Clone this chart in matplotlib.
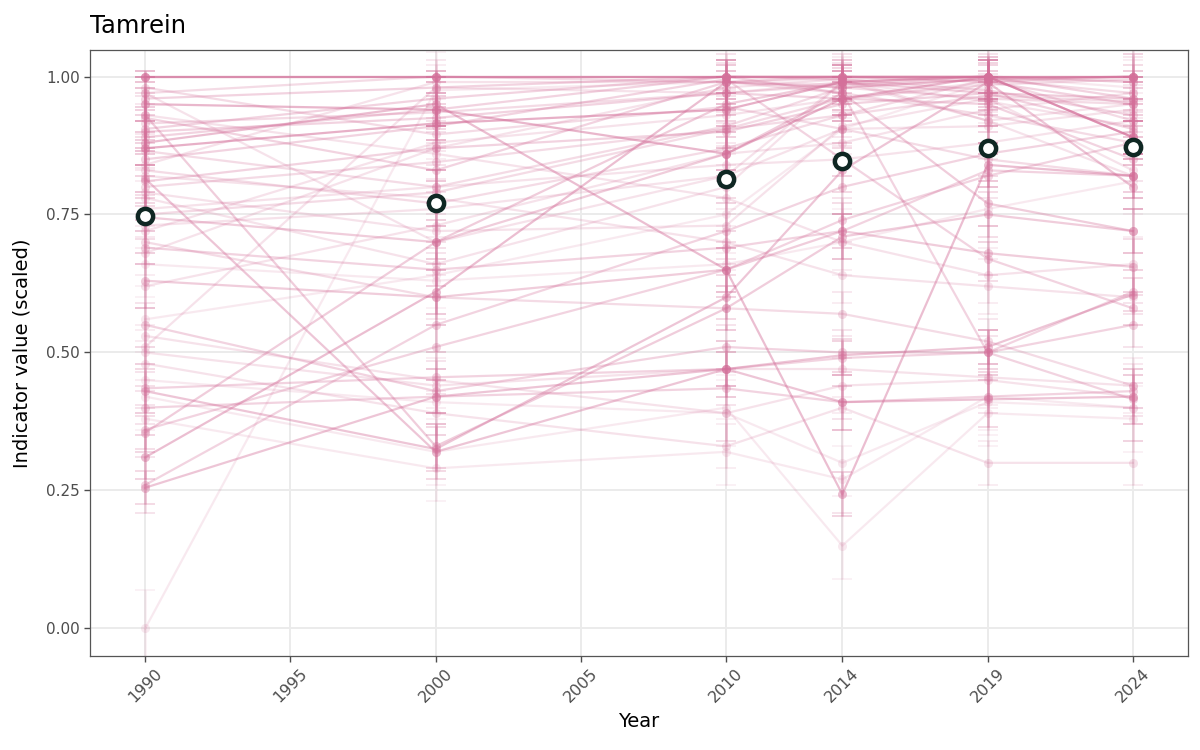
import matplotlib
matplotlib.use("Agg")
import matplotlib.pyplot as plt
import numpy as np

years = [1990, 2000, 2010, 2014, 2019, 2024]

# indicator values per year (1990, 2000, 2010, 2014, 2019, 2024)
ind01 = [1.00, 1.00, 1.00, 1.00, 1.00, 1.00]
ind02 = [1.00, 1.00, 1.00, 1.00, 1.00, 1.00]
ind03 = [0.87, 0.915, 0.94, 0.99, 1.00, 0.89]
ind04 = [0.95, 0.94, 0.86, 0.96, 1.00, 0.89]
ind05 = [0.925, 0.83, 0.99, 1.00, 1.00, 0.96]
ind06 = [0.865, 0.80, 0.91, 0.98, 0.96, 0.95]
ind07 = [0.83, 0.77, 0.87, 0.93, 0.995, 0.92]
ind08 = [0.79, 0.72, 0.73, 0.91, 0.96, 0.83]
ind09 = [0.78, 0.66, 0.80, 0.99, 0.92, 0.82]
ind10 = [0.76, 0.80, 0.84, 0.85, 0.88, 0.92]
ind11 = [0.745, 0.70, 0.86, 0.97, 0.77, 0.72]
ind12 = [0.69, 0.65, 0.69, 0.72, 0.83, 0.82]
ind13 = [0.68, 0.87, 0.98, 0.995, 0.92, 0.95]
ind14 = [0.63, 0.60, 0.65, 0.72, 0.68, 0.655]
ind15 = [0.56, 0.64, 0.75, 0.905, 0.99, 1.00]
ind16 = [0.55, 0.43, 0.51, 0.50, 0.50, 0.55]
ind17 = [0.51, 0.98, 0.97, 0.99, 1.00, 0.99]
ind18 = [0.50, 0.44, 0.47, 0.47, 0.455, 0.44]
ind19 = [0.45, 0.41, 0.39, 0.30, 0.41, 0.40]
ind20 = [0.435, 0.455, 0.47, 0.49, 0.50, 0.415]
ind21 = [0.43, 0.325, 0.60, 0.83, 0.99, 0.80]
ind22 = [0.42, 0.32, 0.40, 0.15, 0.39, 0.38]
ind23 = [0.40, 0.42, 0.435, 0.41, 0.42, 0.43]
ind24 = [0.36, 0.51, 0.65, 0.74, 0.82, 0.88]
ind25 = [0.355, 0.70, 0.95, 0.99, 0.97, 0.96]
ind26 = [0.31, 0.61, 0.99, 0.98, 0.995, 1.00]
ind27 = [0.26, 0.55, 0.72, 0.80, 0.86, 0.90]
ind28 = [0.255, 0.42, 0.47, 0.495, 0.51, 0.605]
ind29 = [0.00, 0.975, 0.99, 0.995, 1.00, 0.98]
ind30 = [0.97, 1.00, 0.99, 0.97, 0.93, 0.88]
ind31 = [0.90, 0.925, 0.97, 0.96, 0.95, 0.85]
ind32 = [0.88, 0.95, 0.65, 0.243, 0.84, 0.82]
ind33 = [0.82, 0.78, 0.70, 0.64, 0.62, 0.60]
ind34 = [0.72, 0.88, 0.93, 0.96, 0.99, 1.00]
ind35 = [0.70, 0.60, 0.58, 0.57, 0.52, 0.44]
ind36 = [0.66, 0.63, 0.66, 0.70, 0.76, 0.81]
ind37 = [0.53, 0.45, 0.39, 0.44, 0.45, 0.42]
ind38 = [0.48, 0.39, 0.33, 0.40, 0.30, 0.30]
ind39 = [0.38, 0.29, 0.32, 0.27, 0.42, 0.40]
ind40 = [0.85, 0.91, 0.995, 0.85, 0.67, 0.58]
ind41 = [0.93, 0.33, 0.58, 0.71, 0.75, 0.72]
ind42 = [0.80, 0.845, 0.905, 0.93, 0.965, 0.955]
ind43 = [0.73, 0.76, 0.82, 0.905, 0.91, 0.94]
ind44 = [0.905, 0.96, 1.00, 0.97, 0.50, 0.61]
ind45 = [0.98, 0.895, 0.945, 0.905, 0.85, 0.82]
ind46 = [0.815, 0.32, 0.47, 0.41, 0.415, 0.42]
ind47 = [0.81, 0.87, 0.90, 0.95, 0.97, 0.905]
ind48 = [0.62, 0.73, 0.86, 0.88, 0.94, 0.97]
ind49 = [0.96, 0.98, 1.00, 0.995, 0.975, 0.93]
ind50 = [0.89, 0.94, 1.00, 1.00, 0.99, 0.95]
ind51 = [0.75, 0.79, 0.905, 0.96, 0.985, 0.995]
ind52 = [0.93, 0.86, 0.78, 0.70, 0.64, 0.66]
ind53 = [0.84, 0.99, 0.99, 0.985, 1.00, 0.99]
ind54 = [0.97, 0.70, 0.82, 0.99, 0.955, 0.91]
ind55 = [0.915, 0.935, 0.97, 0.985, 0.995, 0.97]

indicators = [ind01, ind02, ind03, ind04, ind05, ind06, ind07, ind08, ind09, ind10,
              ind11, ind12, ind13, ind14, ind15, ind16, ind17, ind18, ind19, ind20,
              ind21, ind22, ind23, ind24, ind25, ind26, ind27, ind28, ind29, ind30,
              ind31, ind32, ind33, ind34, ind35, ind36, ind37, ind38, ind39, ind40,
              ind41, ind42, ind43, ind44, ind45, ind46, ind47, ind48, ind49, ind50,
              ind51, ind52, ind53, ind54, ind55]

# per-indicator opacity (weight) and uncertainty
weights = [0.6, 0.4, 0.55, 0.5, 0.3, 0.25, 0.25, 0.2, 0.2, 0.2,
           0.35, 0.3, 0.2, 0.35, 0.15, 0.3, 0.2, 0.2, 0.15, 0.3,
           0.4, 0.15, 0.3, 0.3, 0.35, 0.45, 0.3, 0.4, 0.15, 0.25,
           0.3, 0.45, 0.2, 0.2, 0.25, 0.15, 0.2, 0.2, 0.15, 0.3,
           0.35, 0.25, 0.2, 0.3, 0.25, 0.4, 0.3, 0.2, 0.3, 0.3,
           0.25, 0.2, 0.2, 0.2, 0.25]
uncert = [0.00, 0.01, 0.03, 0.03, 0.04, 0.03, 0.04, 0.05, 0.04, 0.03,
          0.04, 0.03, 0.04, 0.05, 0.06, 0.04, 0.03, 0.05, 0.06, 0.03,
          0.04, 0.06, 0.03, 0.04, 0.03, 0.04, 0.05, 0.03, 0.07, 0.03,
          0.04, 0.04, 0.05, 0.03, 0.04, 0.06, 0.05, 0.04, 0.06, 0.03,
          0.04, 0.03, 0.05, 0.04, 0.03, 0.05, 0.03, 0.04, 0.03, 0.03,
          0.04, 0.05, 0.03, 0.04, 0.03]

mean_vals = [0.748, 0.770, 0.815, 0.847, 0.870, 0.872]
mean_err = [0.008, 0.007, 0.011, 0.008, 0.007, 0.007]

pink = "#d4709a"
dark = "#0f2723"

fig = plt.figure(figsize=(12, 7.5), dpi=100)
ax = fig.add_axes([0.075, 0.1253, 0.915, 0.808])

for vals, w, u in zip(indicators, weights, uncert):
    ax.errorbar(years, vals, yerr=u, color=pink, alpha=w * 0.75, lw=0,
                elinewidth=1.8, capsize=7, capthick=1.2, zorder=2)
    ax.plot(years, vals, color=pink, alpha=w, lw=1.6, zorder=3,
            marker="o", ms=6.5, markeredgewidth=0)

ax.errorbar(years, mean_vals, yerr=mean_err, color=dark, lw=0,
            elinewidth=2, capsize=5, capthick=2, zorder=5)
ax.plot(years, mean_vals, ls="none", marker="o", ms=11, mfc="white",
        mec=dark, mew=3.2, zorder=6)

ax.set_xlim(1988.1, 2025.9)
ax.set_ylim(-0.05, 1.048)
ax.set_xticks([1990, 1995, 2000, 2005, 2010, 2014, 2019, 2024])
ax.set_xticklabels(["1990", "1995", "2000", "2005", "2010", "2014", "2019", "2024"],
                   rotation=45, ha="center", va="top")
ax.set_yticks([0, 0.25, 0.5, 0.75, 1.0])
ax.set_yticklabels(["0.00", "0.25", "0.50", "0.75", "1.00"])
ax.grid(True, color="#ebebeb", lw=1.4, zorder=0)
ax.set_axisbelow(True)
for s in ax.spines.values():
    s.set_color("#555555")
    s.set_linewidth(0.9)
ax.tick_params(axis="both", colors="#4d4d4d", labelsize=11, length=4, width=1,
               labelcolor="#4d4d4d")
ax.tick_params(axis="x", pad=3, labelsize=11.5)

ax.set_xlabel("Year", fontsize=14, labelpad=5)
ax.set_ylabel("Indicator value (scaled)", fontsize=14, labelpad=10)
ax.set_title("Tamrein", fontsize=17.5, loc="left", pad=12)

fig.savefig("out.png", dpi=100)
